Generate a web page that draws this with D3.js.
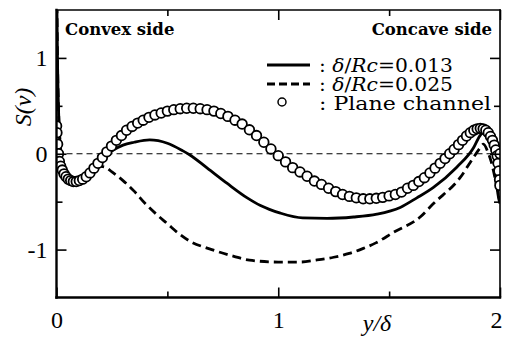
<!DOCTYPE html>
<html><head><meta charset="utf-8">
<script src="https://cdn.jsdelivr.net/npm/d3@7"></script>
<style>
body{margin:0;background:#fff}
svg{display:block;background:#fff}
text{font-family:"Liberation Serif","DejaVu Serif",serif;fill:#000}
text.wide{font-family:"DejaVu Serif","Liberation Serif",serif}
</style>
</head><body>
<svg id="chart" width="505" height="338"></svg>
<script>
// Skewness of wall-normal velocity S(v) across the channel, y/delta in [0, 2]

// Plane channel (circles): grid positions and values
const planeY = [0,0.0005,0.002,0.005,0.009,0.013,0.019,0.026,0.034,0.043,0.053,0.064,0.076,0.089,0.103,0.118,0.134,0.151,0.169,0.187,
  0.207,0.227,0.248,0.270,0.293,0.316,0.341,0.366,0.391,0.417,0.444,0.472,0.500,0.529,0.558,0.587,0.617,0.648,0.679,0.710,
  0.741,0.773,0.805,0.837,0.870,0.902,0.935,0.967,1.000,1.033,1.065,1.098,1.130,1.163,1.195,1.227,1.259,1.290,1.321,1.352,
  1.383,1.413,1.442,1.471,1.500,1.528,1.556,1.583,1.609,1.634,1.659,1.684,1.707,1.730,1.752,1.773,1.793,1.813,1.831,1.849,
  1.866,1.882,1.897,1.911,1.924,1.936,1.947,1.957,1.966,1.974,1.981,1.987,1.991,1.995,1.998,1.9995,2.000];
const planeS = [0,0.29,0.22,0.10,0.00,-0.08,-0.13,-0.17,-0.21,-0.24,-0.265,-0.28,-0.29,-0.29,-0.28,-0.265,-0.24,-0.20,-0.15,-0.10,
  -0.04,0.02,0.08,0.14,0.19,0.245,0.285,0.32,0.35,0.38,0.405,0.425,0.445,0.46,0.47,0.475,0.475,0.47,0.46,0.445,
  0.42,0.39,0.35,0.31,0.25,0.19,0.12,0.05,-0.02,-0.085,-0.145,-0.19,-0.235,-0.285,-0.32,-0.36,-0.395,-0.425,-0.445,-0.46,
  -0.47,-0.47,-0.465,-0.455,-0.44,-0.425,-0.40,-0.36,-0.33,-0.29,-0.25,-0.20,-0.15,-0.10,-0.05,0.00,0.045,0.095,0.14,0.185,
  0.22,0.245,0.26,0.265,0.26,0.245,0.22,0.18,0.14,0.09,0.04,-0.02,-0.10,-0.18,-0.27,-0.33,0];

// Curved channel, delta/Rc = 0.013 (solid)
const rc013Y = [0,0.002,0.005,0.01,0.015,0.02,0.03,0.045,0.06,0.08,0.1,0.12,0.15,0.2,0.25,0.3,0.35,0.42,0.5,0.57,
  0.6,0.68,0.77,0.86,0.92,0.96,1.01,1.11,1.22,1.34,1.445,1.55,1.625,1.7,1.805,1.88,1.91,1.93,1.955,1.98,1.99,2.0];
const rc013S = [2.0,1.5,0.9,0.4,0.15,0.0,-0.12,-0.22,-0.27,-0.3,-0.31,-0.29,-0.21,-0.06,0.03,0.09,0.12,0.145,0.11,0.03,
  -0.01,-0.15,-0.31,-0.46,-0.54,-0.58,-0.62,-0.67,-0.675,-0.66,-0.63,-0.56,-0.46,-0.35,-0.14,0.06,0.19,0.23,0.17,-0.14,-0.41,-0.52];

// Curved channel, delta/Rc = 0.025 (dashed)
const rc025Y = [0,0.002,0.005,0.01,0.015,0.02,0.03,0.045,0.06,0.08,0.1,0.13,0.16,0.19,0.22,0.25,0.3,0.35,0.4,0.45,
  0.5,0.55,0.6,0.7,0.8,0.87,1.0,1.1,1.17,1.25,1.32,1.37,1.44,1.52,1.64,1.7,1.82,1.88,1.91,1.925,1.945,1.96,1.98,1.99,2.0];
const rc025S = [2.0,1.5,0.9,0.4,0.15,0.0,-0.12,-0.22,-0.27,-0.3,-0.3,-0.24,-0.17,-0.13,-0.14,-0.19,-0.28,-0.39,-0.52,-0.63,
  -0.73,-0.83,-0.91,-1.0,-1.07,-1.11,-1.13,-1.13,-1.11,-1.08,-1.04,-1.0,-0.93,-0.82,-0.66,-0.52,-0.25,-0.04,0.06,0.1,0.02,-0.08,-0.28,-0.4,-0.49];

// Axis ticks and labels
const xMajorTicks = [0, 1, 2];
const xMinorTicks = [0.5, 1.5];
const xTickLabels = ["0", "1", "2"];
const yMajorTicks = [-1, 0, 1];
const yMinorTicks = [-0.5, 0.5];
const yTickLabels = ["-1", "0", "1"];

const svg = d3.select("#chart");
const box = {left: 56.5, right: 500, top: 10, bottom: 297.5};
const x = d3.scaleLinear().domain([0, 2]).range([box.left, box.right]);
const y = d3.scaleLinear().domain([-1.5, 1.5]).range([box.bottom, box.top]);

svg.append("defs").append("clipPath").attr("id", "plotClip")
  .append("rect").attr("x", box.left).attr("y", box.top)
  .attr("width", box.right - box.left).attr("height", box.bottom - box.top);

// zero reference line
svg.append("line")
  .attr("x1", x(0)).attr("x2", x(2)).attr("y1", y(0)).attr("y2", y(0))
  .attr("stroke", "#000").attr("stroke-width", 1).attr("stroke-dasharray", "6,4");

const plot = svg.append("g").attr("clip-path", "url(#plotClip)");
const line = d3.line().x(d => x(d[0])).y(d => y(d[1])).curve(d3.curveMonotoneX);

plot.append("path").datum(d3.zip(rc013Y, rc013S))
  .attr("d", line).attr("fill", "none").attr("stroke", "#000").attr("stroke-width", 2.8);
plot.append("path").datum(d3.zip(rc025Y, rc025S))
  .attr("d", line).attr("fill", "none").attr("stroke", "#000").attr("stroke-width", 2.8)
  .attr("stroke-dasharray", "9,5");

plot.selectAll("circle.pc").data(d3.zip(planeY, planeS)).join("circle")
  .attr("class", "pc")
  .attr("cx", d => x(d[0])).attr("cy", d => y(d[1])).attr("r", 4.8)
  .attr("fill", "#fff").attr("stroke", "#000").attr("stroke-width", 1.8);

// ticks on all four sides, pointing inward
function ticks(axisFn, pos, vals, size, labels, pad) {
  const a = axisFn.tickValues(vals).tickSize(-size).tickPadding(pad)
    .tickFormat(labels ? (d, i) => labels[i] : "");
  const g = svg.append("g").attr("transform", pos).call(a);
  g.select(".domain").remove();
  g.selectAll(".tick line").attr("stroke", "#000").attr("stroke-width", 1.6);
  g.selectAll("text").attr("font-size", 24).attr("fill", "#000");
  return g;
}
const xLab = ticks(d3.axisBottom(x), `translate(0,${box.bottom})`, xMajorTicks, 10, xTickLabels, 13);
xLab.selectAll(".tick text").filter(d => d === 2).attr("dx", -4);
ticks(d3.axisBottom(x), `translate(0,${box.bottom})`, xMinorTicks, 6, null, 0);
ticks(d3.axisTop(x), `translate(0,${box.top})`, xMajorTicks, 10, null, 0);
ticks(d3.axisTop(x), `translate(0,${box.top})`, xMinorTicks, 6, null, 0);
ticks(d3.axisLeft(y), `translate(${box.left},0)`, yMajorTicks, 10, yTickLabels, 9);
ticks(d3.axisLeft(y), `translate(${box.left},0)`, yMinorTicks, 6, null, 0);
ticks(d3.axisRight(y), `translate(${box.right},0)`, yMajorTicks, 10, null, 0);
ticks(d3.axisRight(y), `translate(${box.right},0)`, yMinorTicks, 6, null, 0);

// frame
const frame = svg.append("g").attr("stroke", "#000").attr("stroke-linecap", "square");
frame.append("line").attr("x1", box.left).attr("x2", box.left).attr("y1", box.top).attr("y2", box.bottom).attr("stroke-width", 2.4);
frame.append("line").attr("x1", box.left).attr("x2", box.right).attr("y1", box.bottom).attr("y2", box.bottom).attr("stroke-width", 2.4);
frame.append("line").attr("x1", box.left).attr("x2", box.right).attr("y1", box.top).attr("y2", box.top).attr("stroke-width", 1.6);
frame.append("line").attr("x1", box.right).attr("x2", box.right).attr("y1", box.top).attr("y2", box.bottom).attr("stroke-width", 1.6);

// axis titles
svg.append("text").attr("x", 377).attr("y", 331).attr("text-anchor", "middle")
  .attr("font-size", 24).attr("font-style", "italic").text("y/δ");
svg.append("text").attr("transform", "translate(31,107) rotate(-90)").attr("text-anchor", "middle")
  .attr("font-size", 24).attr("font-style", "italic").text("S(v)");

// side labels
svg.append("text").attr("class", "wide").attr("x", 65).attr("y", 35).attr("font-size", 16.5)
  .attr("font-weight", "bold").text("Convex side");
svg.append("text").attr("class", "wide").attr("x", 492).attr("y", 35).attr("text-anchor", "end")
  .attr("font-size", 16.5).attr("font-weight", "bold").text("Concave side");

// legend
const legendRows = [
  {kind: "solid", value: "0.013", cy: 65, base: 71.5},
  {kind: "dashed", value: "0.025", cy: 84, base: 90.5},
];
legendRows.forEach(r => {
  svg.append("line").attr("x1", 267).attr("x2", 310).attr("y1", r.cy).attr("y2", r.cy)
    .attr("stroke", "#000").attr("stroke-width", 2.8)
    .attr("stroke-dasharray", r.kind === "dashed" ? "8,4" : null);
  const t = svg.append("text").attr("class", "wide").attr("x", 319).attr("y", r.base).attr("font-size", 18)
    .attr("textLength", 134).attr("lengthAdjust", "spacingAndGlyphs");
  t.append("tspan").text(": ");
  t.append("tspan").attr("font-style", "italic").text("δ");
  t.append("tspan").text("/");
  t.append("tspan").attr("font-style", "italic").text("Rc");
  t.append("tspan").text("=" + r.value);
});
svg.append("circle").attr("cx", 282).attr("cy", 102).attr("r", 4)
  .attr("fill", "#fff").attr("stroke", "#000").attr("stroke-width", 1.5);
svg.append("text").attr("class", "wide").attr("x", 319).attr("y", 109.5).attr("font-size", 18)
  .attr("textLength", 172).attr("lengthAdjust", "spacingAndGlyphs").text(": Plane channel");
</script>
</body></html>
